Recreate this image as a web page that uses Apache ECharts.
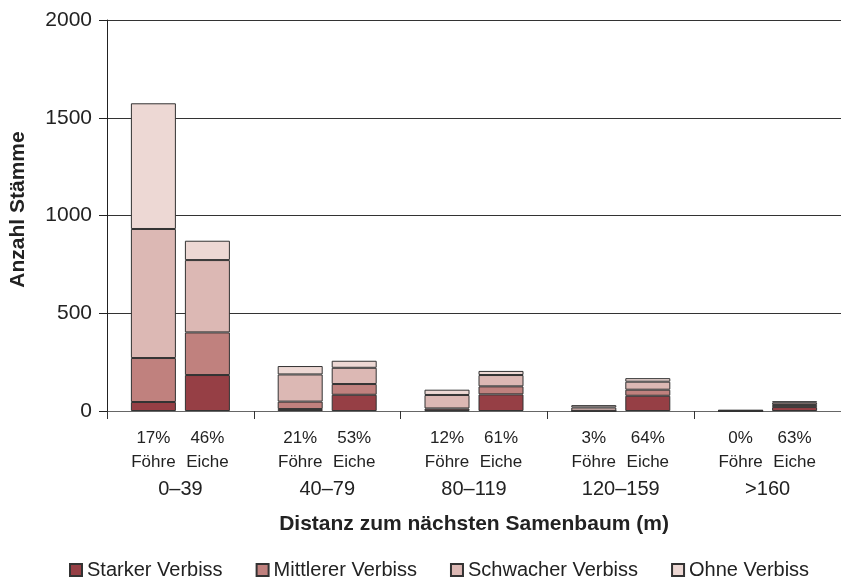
<!DOCTYPE html>
<html>
<head>
<meta charset="utf-8">
<script src="https://cdn.jsdelivr.net/npm/echarts@6/dist/echarts.min.js"></script>
<style>
  html, body { margin: 0; padding: 0; background: #fff; }
  #chart { width: 841px; height: 578px; }
</style>
</head>
<body>
<div id="chart"></div>
<script>
// distance groups and labels under the bars
var groups = ['0–39', '40–79', '80–119', '120–159', '>160'];
var pctFoehre = ['17%', '21%', '12%', '3%', '0%'];
var pctEiche = ['46%', '53%', '61%', '64%', '63%'];

var levels = ['Starker Verbiss', 'Mittlerer Verbiss', 'Schwacher Verbiss', 'Ohne Verbiss'];
var colors = ['#963f45', '#c0817e', '#dcb8b4', '#edd8d4'];

// counts per group, one array per browsing level
var foehreStark   = [46, 10, 3, 0, 0];
var foehreMittel  = [225, 38, 10, 1, 0];
var foehreSchwach = [660, 139, 69, 17, 2];
var foehreOhne    = [643, 43, 27, 12, 3];

var eicheStark   = [184, 83, 85, 78, 20];
var eicheMittel  = [218, 55, 41, 31, 11];
var eicheSchwach = [370, 83, 58, 41, 12];
var eicheOhne    = [99, 36, 21, 18, 7];

var foehre = [foehreStark, foehreMittel, foehreSchwach, foehreOhne];
var eiche = [eicheStark, eicheMittel, eicheSchwach, eicheOhne];

var font = '"Liberation Sans", Arial, sans-serif';

var series = [];
function addStack(stackName, rows) {
	for (var i = 0; i < levels.length; i++) {
		series.push({
			name: levels[i],
			type: 'bar',
			stack: stackName,
			barWidth: 45,
			barGap: '20%',
			itemStyle: { color: colors[i], borderColor: '#333', borderWidth: 1 },
			data: rows[i]
		});
	}
}
addStack('F', foehre);
addStack('E', eiche);

var myChart = echarts.init(document.getElementById('chart'));

var option = {
	animation: false,
	color: colors,
	textStyle: { fontFamily: font },
	grid: { left: 106, right: 0, top: 20, bottom: 167 },
	legend: {
		data: levels,
		top: 555,
		left: 64,
		itemWidth: 12,
		itemHeight: 12,
		itemGap: 33,
		icon: 'rect',
		textStyle: { fontSize: 20, color: '#222', fontFamily: font }
	},
	xAxis: {
		type: 'category',
		data: groups,
		name: 'Distanz zum nächsten Samenbaum (m)',
		nameLocation: 'middle',
		nameGap: 103,
		nameTextStyle: { fontSize: 21, fontWeight: 'bold', color: '#222', fontFamily: font },
		axisLine: { lineStyle: { color: '#666', width: 1 } },
		axisTick: { show: true, length: 8, lineStyle: { color: '#333' } },
		axisLabel: {
			margin: 15,
			color: '#222',
			formatter: function (value, idx) {
				return '{p|' + pctFoehre[idx] + '}{p|' + pctEiche[idx] + '}\n' +
					'{p|Föhre}{p|Eiche}\n' +
					'{g|' + value + '}';
			},
			rich: {
				p: { width: 54, align: 'center', fontSize: 17, lineHeight: 24, color: '#222', fontFamily: font },
				g: { width: 108, align: 'center', fontSize: 20, lineHeight: 31, color: '#222', fontFamily: font }
			}
		}
	},
	yAxis: {
		type: 'value',
		min: 0,
		max: 2000,
		interval: 500,
		name: 'Anzahl Stämme',
		nameLocation: 'middle',
		nameGap: 78,
		nameTextStyle: { fontSize: 21, fontWeight: 'bold', color: '#222', fontFamily: font, padding: [0, 0, 0, 12] },
		axisLine: { show: true, lineStyle: { color: '#222' } },
		axisTick: { show: true, length: 8, lineStyle: { color: '#222' } },
		axisLabel: {
			fontSize: 21,
			color: '#222',
			margin: 15,
			formatter: function (v) { return String(v); }
		},
		splitLine: { lineStyle: { color: '#333', width: 1 } }
	},
	series: series
};

myChart.setOption(option);
</script>
</body>
</html>
